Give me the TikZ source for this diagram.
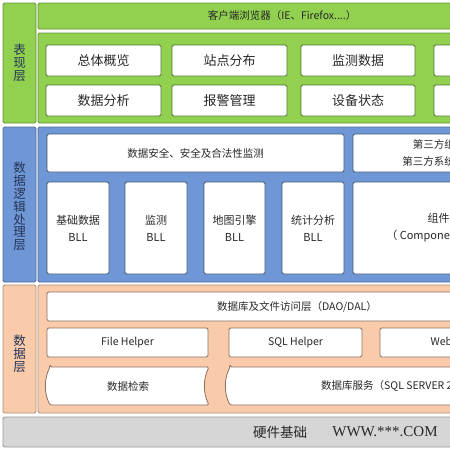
\documentclass[tikz,border=0pt]{standalone}
\usepackage{fontspec}
\setmainfont{Noto Sans CJK SC}
\newfontfamily\wwwfont{Liberation Serif}
\usetikzlibrary{positioning}
\definecolor{LayGreen}{RGB}{146,208,80}
\definecolor{LayBlue}{RGB}{111,151,214}
\definecolor{LayPeach}{RGB}{249,203,170}
\definecolor{HwGray}{RGB}{214,214,214}
\definecolor{TxtDark}{RGB}{40,40,40}
\definecolor{ColTxt}{RGB}{38,52,88}
\tikzset{
  wh/.style 2 args={minimum width=#1,minimum height=#2},
  blk/.style={anchor=north west,inner sep=0pt,outer sep=0pt,line width=0.8pt,
              rounded corners=1.5pt,align=center,text=TxtDark},
  layer/.style={blk,fill=#1,draw=#1!70!black},
  coltext/.style={align=center,text=ColTxt,font=\fontsize{12.5}{12.8}\selectfont},
  wbox/.style={blk,fill=white,draw=#1!55!black},
  gtxt/.style={font=\fontsize{13}{15}\selectfont},
  btxt/.style={font=\fontsize{10.5}{17}\selectfont},
  blltxt/.style={font=\fontsize{11}{17}\selectfont},
  ptxt/.style={font=\fontsize{10.5}{13}\selectfont},
  curvebox/.style={fill=white,draw=LayPeach!55!black,line width=0.8pt,rounded corners=1.5pt},
}
\begin{document}
\begin{tikzpicture}[x=1pt,y=-1pt]
  \useasboundingbox (0,0) rectangle (450,450);
  \clip (0,0) rectangle (450,450);

  % presentation layer
  \node[layer=LayGreen,wh={33}{120}] (biaoxian) at (3,3) {};
  \node[coltext] (biaoxianTxt) at (biaoxian.center) {表\\现\\层};
  \node[layer=LayGreen,wh={488}{26},btxt] (browser) at (38,3) {客户端浏览器（IE、Firefox....）};
  \node[layer=LayGreen,wh={520}{90}] (presPanel) at (38,33) {};
  \node[wbox=LayGreen,wh={115}{31},gtxt] (ztgl) at (46,45) {总体概览};
  \node[wbox=LayGreen,wh={115}{31},gtxt] (zdfb) at (172,45) {站点分布};
  \node[wbox=LayGreen,wh={114}{31},gtxt] (jcsj) at (301,45) {监测数据};
  \node[wbox=LayGreen,wh={115}{31},gtxt] (rowAd) at (434,45) {};
  \node[wbox=LayGreen,wh={115}{31},gtxt] (sjfx) at (46,85) {数据分析};
  \node[wbox=LayGreen,wh={115}{31},gtxt] (bjgl) at (172,85) {报警管理};
  \node[wbox=LayGreen,wh={114}{31},gtxt] (sbzt) at (301,85) {设备状态};
  \node[wbox=LayGreen,wh={115}{31},gtxt] (rowBd) at (434,85) {};

  % logic layer
  \node[layer=LayBlue,wh={33}{155}] (luoji) at (3,127) {};
  \node[coltext] (luojiTxt) at ([yshift=-2pt]luoji.center) {数\\据\\逻\\辑\\处\\理\\层};
  \node[layer=LayBlue,wh={520}{155}] (logicPanel) at (38,127) {};
  \node[wbox=LayBlue,wh={297}{38},btxt] (aqjc) at (47,134) {数据安全、安全及合法性监测};
  \node[wbox=LayBlue,wh={172}{38},btxt] (dsf) at (353,134) {第三方组件\\第三方系统接口};
  \node[wbox=LayBlue,wh={62}{92},blltxt] (jcbll) at (47,182) {基础数据\\BLL};
  \node[wbox=LayBlue,wh={62}{92},blltxt] (jcebll) at (125,182) {监测\\BLL};
  \node[wbox=LayBlue,wh={61}{92},blltxt] (dtbll) at (204,182) {地图引擎\\BLL};
  \node[wbox=LayBlue,wh={62}{92},blltxt] (tjbll) at (282,182) {统计分析\\BLL};
  \node[wbox=LayBlue,wh={204}{92},blltxt] (zj) at (353,182) {组件、控件\\（ Component、Control ）};

  % data layer
  \node[layer=LayPeach,wh={33}{128}] (shuju) at (3,285) {};
  \node[coltext] (shujuTxt) at ([yshift=-5pt]shuju.center) {数\\据\\层};
  \node[layer=LayPeach,wh={520}{128}] (dataPanel) at (38,285) {};
  \node[wbox=LayPeach,wh={500}{29},ptxt] (dao) at (47,292) {数据库及文件访问层（DAO/DAL）};
  \node[wbox=LayPeach,wh={161}{29},ptxt] (fileh) at (47,328) {File Helper};
  \node[wbox=LayPeach,wh={133}{29},ptxt] (sqlh) at (229,328) {SQL Helper};
  \node[wbox=LayPeach,wh={158}{29},ptxt] (webh) at (380,328) {Web Helper};
  \draw[curvebox] (50,367) -- (209,367) .. controls (203,379) and (203,393) .. (209,405)
    -- (50,405) .. controls (44,393) and (44,379) .. (50,367) -- cycle;
  \node[ptxt,text=TxtDark] (sjjs) at (128,386) {数据检索};
  \draw[curvebox] (230,367) -- (620,367) -- (620,405) -- (230,405)
    .. controls (224,393) and (224,379) .. (230,367) -- cycle;
  \node[ptxt,text=TxtDark,anchor=west,inner sep=0pt] (sjkfw) at (321,386) {数据库服务（SQL SERVER 2008）};

  % hardware
  \node[layer=HwGray,wh={554}{30},font=\fontsize{13.5}{15}\selectfont] (yingjian) at (3,417) {硬件基础};
  \node[font=\wwwfont\fontsize{15}{16}\selectfont,text=TxtDark] (www) at (385,432) {WWW.***.COM};
\end{tikzpicture}
\end{document}
